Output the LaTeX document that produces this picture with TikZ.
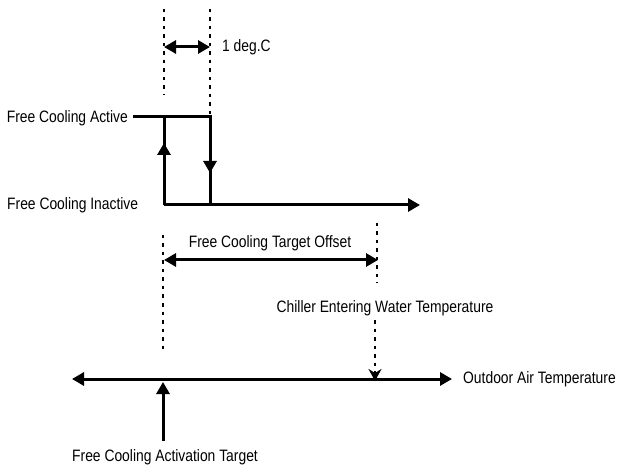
\documentclass[tikz,border=0pt]{standalone}
\usepackage{fontspec}
\setmainfont[FakeStretch=0.84]{Liberation Sans}
\usetikzlibrary{arrows.meta, positioning, calc}

\begin{document}
\begin{tikzpicture}[x=1pt, y=-1pt,
  solid line/.style={line width=3pt},
  dots/.style={line width=2.8pt, dash pattern=on 3.5pt off 5pt},
  tri/.style={-{Triangle[length=12pt,width=13pt]}},
  tritri/.style={{Triangle[length=12pt,width=13pt]}-{Triangle[length=12pt,width=13pt]}},
  lbl/.style={font=\fontsize{16.5}{18}\selectfont, inner sep=0pt}]
  \useasboundingbox (0,0) rectangle (622,468);

  % hysteresis
  \coordinate (on) at (164,205);
  \coordinate (off) at (210,117);
  \node[lbl, anchor=east] (active) at (128,118) {Free Cooling Active};
  \node[lbl, anchor=west] (inactive) at (7,205) {Free Cooling Inactive};
  \coordinate (stepend) at (420,205);
  \draw[solid line] (133,117) -- (off) -- (210,205);
  \draw[solid line] (on) -- (164,117);
  \draw[solid line, tri] (on) -- (stepend);
  \draw[solid line, tri] (on) -- (164,143);
  \draw[solid line, tri] (off) -- (210,173);

  % 1 deg.C band
  \draw[dots] (164,9) -- (164,95);
  \draw[dots] (210,9) -- (off);
  \draw[solid line, tritri] (164,47) -- (210,47);
  \node[lbl, anchor=west] (band) at (222,47) {1 deg.C};

  % target offset
  \draw[dots] (163,235) -- (163,352);
  \draw[dots] (377,223) -- (377,283);
  \draw[solid line, tritri] (164,260) -- (378,260);
  \node[lbl] (offset) at (270,243) {Free Cooling Target Offset};

  % outdoor air axis
  \coordinate (axisl) at (72,379);
  \coordinate (axisr) at (452,379);
  \draw[solid line, tritri] (axisl) -- (axisr);
  \node[lbl, anchor=west] (oat) at (463,379) {Outdoor Air Temperature};

  \node[lbl] (chw) at (385,308) {Chiller Entering Water Temperature};
  \draw[dots, -{Stealth[length=12pt,width=13pt,inset=4pt]}] (375,320) -- (375,381);

  \node[lbl] (target) at (165,457) {Free Cooling Activation Target};
  \draw[solid line, tri] (163,441) -- (163,382);
\end{tikzpicture}
\end{document}
